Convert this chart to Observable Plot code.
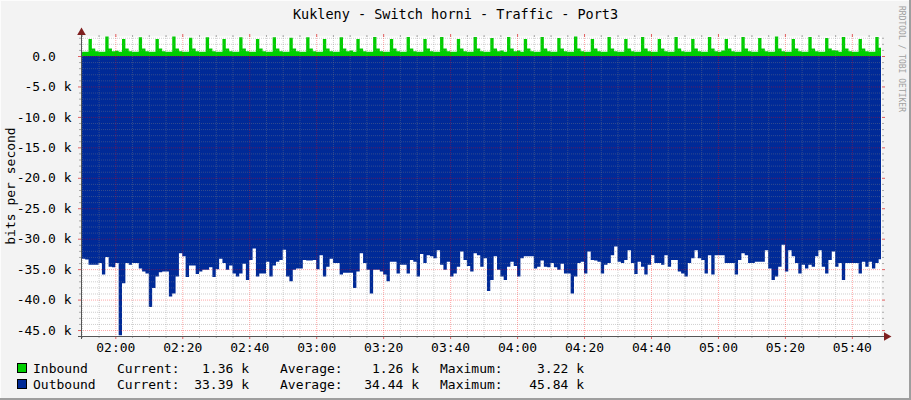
<!DOCTYPE html>
<html><head><meta charset="utf-8">
<script src="https://cdn.jsdelivr.net/npm/d3@7"></script>
<script src="https://cdn.jsdelivr.net/npm/@observablehq/plot@0.6"></script>
<style>
html,body{margin:0;padding:0;background:#f3f3f3;overflow:hidden;}
#chart{width:911px;height:400px;}
</style></head><body><div id="chart"></div>
<script>
const title = "Kukleny - Switch horni - Traffic - Port3";
const yAxisLabel = "bits per second";
const watermark = "RRDTOOL / TOBI OETIKER";
const seriesNames = ["Inbound", "Outbound"];
const seriesColors = ["#00CF00", "#002A97"];
const statLabels = ["Current:", "Average:", "Maximum:"];
const currentVals = ["1.36 k", "33.39 k"];
const averageVals = ["1.26 k", "34.44 k"];
const maximumVals = ["3.22 k", "45.84 k"];
const startTime = "01:50"; // first sample, 1-minute steps
const xTickLabels = ["02:00","02:20","02:40","03:00","03:20","03:40","04:00","04:20","04:40","05:00","05:20","05:40"];
const yTickValues = [0,-5,-10,-15,-20,-25,-30,-35,-40,-45]; // thousands

// inbound, kbit/s, one value per minute
const inboundK = [
0.68,0.68,
2.79,1.25,0.8,0.68,0.68, 3.2,1.25,0.8,0.85,0.68, 2.79,1.25,0.8,0.68,0.68, 3.1,1.25,0.8,0.68,0.68,
2.79,1.25,0.8,0.68,0.68, 3.2,1.25,0.8,0.68,0.68, 3.0,1.25,0.8,0.68,0.68, 3.1,1.25,0.8,0.68,0.68,
2.79,1.25,0.8,0.68,0.68, 3.1,1.25,0.8,0.68,0.68, 2.79,1.25,0.8,0.68,0.68, 3.1,1.25,0.8,0.68,0.68,
3.0,1.25,0.8,0.68,0.68, 3.1,1.25,0.8,0.68,0.68, 2.79,1.25,0.8,0.68,0.68, 3.1,1.25,0.8,0.9,0.68,
2.79,1.25,0.8,0.68,0.68, 3.12,1.25,0.8,0.68,0.68, 2.79,1.25,0.8,0.68,0.68, 3.12,1.25,0.8,0.68,0.68,
2.79,1.25,0.8,0.68,0.68, 3.12,1.25,0.8,0.68,0.68, 2.79,1.25,0.8,0.68,0.68, 3.12,1.25,0.8,0.68,0.68,
2.95,1.25,0.8,0.9,0.68, 3.12,1.25,0.8,0.9,0.68, 2.79,1.25,0.8,0.68,0.68, 3.12,1.25,0.8,0.68,0.68,
2.95,1.25,0.8,0.68,0.68, 3.22,1.25,0.8,0.68,0.68, 2.79,1.25,0.8,0.68,0.68, 3.12,1.25,0.8,0.68,0.68,
2.79,1.25,0.8,0.68,0.68, 3.12,1.25,0.8,0.68,0.68, 2.79,1.25,0.8,0.68,0.68, 3.12,1.25,0.8,0.68,0.68,
2.79,1.25,0.8,0.68,0.68, 3.12,1.25,0.8,0.68,0.9, 2.79,1.25,0.8,0.68,0.68, 3.12,1.25,0.8,0.68,0.68,
2.95,1.25,0.8,0.68,0.68, 3.22,1.25,0.8,0.68,0.68, 2.79,1.25,0.8,0.68,0.68, 3.12,1.25,0.8,0.68,0.68,
2.95,1.25,0.95,0.9,0.68, 3.12,1.25,0.8,0.68,0.68, 2.79,1.25,0.8,0.68,0.68,
3.12,1.36
];

// outbound, kbit/s, one value per minute (drawn below zero)
const outboundK = [
33.3,33.4,34.3,34.3,34.3,34.0,35.9,33.0,34.6,34.7,
34.0,45.84,37.3,34.0,34.3,34.0,34.0,34.9,35.4,35.7,
41.2,38.1,36.2,35.5,35.4,35.4,39.5,39.0,36.2,32.4,
32.9,36.3,34.4,34.4,35.8,35.4,35.1,35.1,34.7,36.3,
35.0,33.3,34.0,35.1,34.4,35.7,36.2,35.7,34.1,36.8,
33.5,31.6,36.2,35.7,35.7,33.8,36.2,34.4,33.8,33.5,
31.8,36.2,37.0,35.1,34.9,34.9,33.5,33.6,33.6,33.5,
35.0,32.7,36.2,34.6,33.3,34.0,34.0,35.9,35.6,35.6,
35.6,38.1,35.4,32.4,34.0,35.1,39.0,35.1,35.1,
35.4,35.9,37.0,33.8,33.8,35.7,34.3,34.3,35.7,33.5,
33.8,36.2,32.5,34.0,32.7,32.9,33.2,31.9,34.3,35.1,
33.8,36.2,35.7,34.6,32.1,33.5,34.5,35.4,32.4,32.7,
34.6,33.2,38.6,36.8,32.9,35.1,36.2,36.8,34.6,33.8,
34.5,36.2,33.2,32.9,32.9,32.9,34.9,34.6,33.6,34.6,
34.7,34.0,34.7,35.1,34.1,35.7,35.7,39.0,36.2,34.0,
33.8,35.7,32.1,33.5,33.6,33.8,35.7,34.3,34.0,32.7,
31.3,33.8,34.0,33.5,31.9,34.0,35.8,33.8,34.6,35.9,
34.3,32.7,34.0,34.0,34.3,32.7,34.6,33.5,33.5,35.4,
35.7,36.2,34.0,33.2,31.9,33.2,33.5,35.7,32.7,35.9,
32.7,32.7,32.7,34.0,34.0,34.0,35.9,33.5,32.4,32.7,
34.0,34.0,33.8,33.8,33.8,31.9,34.9,36.8,36.2,34.6,
31.0,35.4,31.9,32.9,34.0,35.7,34.3,34.9,34.3,34.6,
32.9,31.9,34.6,35.7,33.5,32.1,34.6,34.0,36.8,34.0,
34.0,34.0,34.0,35.7,33.8,34.6,33.8,34.9,34.0,33.39
];

const FONT = "DejaVu Sans Mono";
const parseHM = s => { const [h, m] = s.split(":").map(Number); return new Date(2024, 0, 1, h, m); };
const t0 = parseHM(startTime);
const times = outboundK.map((_, i) => new Date(+t0 + i * 60000));
const xDomain = [new Date(+parseHM("01:49") + 45000), new Date(+parseHM("05:48") + 42000)];
const yDomain = [-45980, 3285];

function rows(vals, sign) {
  const r = vals.map((v, i) => ({t: times[i], v: sign * v * 1000}));
  r.unshift({t: xDomain[0], v: r[0].v});
  r.push({t: new Date(+times[times.length - 1] + 60000), v: r[r.length - 1].v});
  return r;
}
const inRows = rows(inboundK, 1);
const outRows = rows(outboundK, -1);

const majorX = xTickLabels.map(parseHM);
const majorSet = new Set(majorX.map(Number));
const minorX = d3.timeMinute.every(5).range(xDomain[0], xDomain[1]).filter(d => !majorSet.has(+d));
const yMajor = yTickValues.map(v => v * 1000);
const yMinor = d3.range(-45, 4).filter(v => v % 5 !== 0).map(v => v * 1000);
const fmtY = v => v === 0 ? "0.0\u00a0\u00a0" : (v / 1000).toFixed(1) + " k";
const grayGrid = {stroke: "#808080", strokeOpacity: 0.38, strokeDasharray: "1,1"};
const redGrid = {stroke: "#ff0000", strokeOpacity: 0.35, strokeDasharray: "1,1"};
const blank = () => "";
const tk = (extra) => Object.assign({label: null}, extra);

const svg = Plot.plot({
  width: 911, height: 400,
  marginLeft: 81, marginRight: 30, marginTop: 36, marginBottom: 64,
  style: {background: "#f3f3f3", fontFamily: FONT, fontSize: "13px", color: "#000"},
  x: {type: "time", domain: xDomain, label: null},
  y: {domain: yDomain, label: null},
  marks: [
    Plot.frame({fill: "#ffffff", stroke: null}),
    Plot.areaY(inRows, {x: "t", y: "v", curve: "step-after", fill: seriesColors[0], clip: true}),
    Plot.areaY(outRows, {x: "t", y: "v", curve: "step-after", fill: seriesColors[1], clip: true}),
    Plot.ruleY(yMinor, grayGrid),
    Plot.ruleX(minorX, grayGrid),
    Plot.ruleY(yMajor, redGrid),
    Plot.ruleX(majorX, redGrid),
    Plot.axisY(yMinor, tk({anchor: "left", tickSize: 2, tickFormat: blank, stroke: "#aaaaaa"})),
    Plot.axisY(yMinor, tk({anchor: "right", tickSize: 2, tickFormat: blank, stroke: "#aaaaaa"})),
    Plot.axisY(yMajor, tk({anchor: "left", tickSize: 3, tickFormat: blank, stroke: "#e06060"})),
    Plot.axisY(yMajor, tk({anchor: "right", tickSize: 3, tickFormat: blank, stroke: "#e06060"})),
    Plot.axisY(yMajor, tk({anchor: "left", tickSize: 0, tickPadding: 10, tickFormat: fmtY, fontSize: 13})),
    Plot.axisX(minorX, tk({anchor: "bottom", tickSize: 2, tickFormat: blank, stroke: "#aaaaaa"})),
    Plot.axisX(minorX, tk({anchor: "top", tickSize: 2, tickFormat: blank, stroke: "#aaaaaa"})),
    Plot.axisX(majorX, tk({anchor: "bottom", tickSize: 3, tickFormat: blank, stroke: "#e06060"})),
    Plot.axisX(majorX, tk({anchor: "top", tickSize: 3, tickFormat: blank, stroke: "#e06060"})),
    Plot.axisX(majorX, tk({anchor: "bottom", tickSize: 0, tickPadding: 6, tickFormat: d3.timeFormat("%H:%M"), fontSize: 13})),
    Plot.ruleX([xDomain[0]], {stroke: "#555555", insetTop: -3, insetBottom: -3}),
    Plot.ruleY([yDomain[0]], {stroke: "#555555", insetLeft: -3, insetRight: -4}),
    Plot.dot([0], {frameAnchor: "top-left", symbol: "triangle", r: 3.2, fill: "#7f1f1f", stroke: null, dy: -4}),
    Plot.dot([0], {frameAnchor: "bottom-right", symbol: "triangle", r: 3.2, fill: "#7f1f1f", stroke: null, dx: 5, rotate: 90})
  ]
});

const s = d3.select(svg);
const txt = (x, y, str, size, anchor, fill, rot) => {
  const t = s.append("text").attr("transform", `translate(${x},${y})` + (rot ? ` rotate(${rot})` : ""))
    .attr("text-anchor", anchor).attr("font-family", FONT).attr("font-size", size).attr("fill", fill).text(str);
  return t;
};
// title, axis label, watermark
txt(455.5, 14, title, 13.5, "middle", "#000").attr("dy", "0.35em");
txt(10, 186, yAxisLabel, 13, "middle", "#000", -90).attr("dy", "0.35em");
txt(902, 6, watermark, 8, "start", "#a0a0a0", 90).attr("dy", "0.35em");
// legend
const rowsY = [368, 384];
seriesNames.forEach((name, i) => {
  const cy = rowsY[i];
  s.append("rect").attr("x", 17.5).attr("y", cy - 4.5).attr("width", 9).attr("height", 9)
    .attr("fill", seriesColors[i]).attr("stroke", "#000").attr("stroke-width", 1);
  const t = (x, str, anchor) => txt(x, cy, str, 13, anchor, "#000").attr("dy", "0.35em");
  t(33, name, "start");
  t(117, statLabels[0], "start");
  t(249, currentVals[i], "end");
  t(280, statLabels[1], "start");
  t(419, averageVals[i], "end");
  t(440, statLabels[2], "start");
  t(584, maximumVals[i], "end");
});
// 3D frame
s.append("line").attr("x1", 0).attr("x2", 911).attr("y1", 0.5).attr("y2", 0.5).attr("stroke", "#fcfcfc");
s.append("line").attr("x1", 0.5).attr("x2", 0.5).attr("y1", 0).attr("y2", 400).attr("stroke", "#fcfcfc");
s.append("rect").attr("x", 0).attr("y", 398).attr("width", 911).attr("height", 2).attr("fill", "#9e9e9e");
s.append("rect").attr("x", 909).attr("y", 0).attr("width", 2).attr("height", 400).attr("fill", "#9e9e9e");

document.getElementById("chart").appendChild(svg);
</script>
</body></html>
